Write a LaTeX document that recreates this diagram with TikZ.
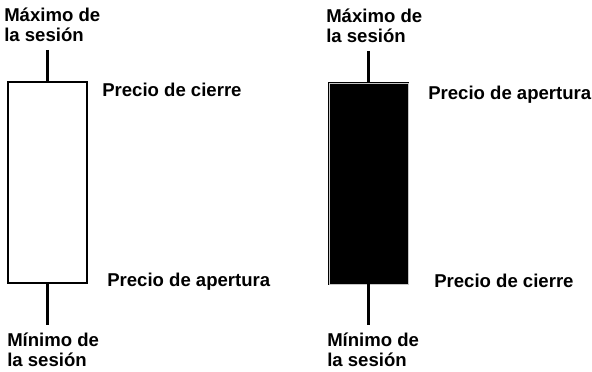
\documentclass[tikz,border=0pt]{standalone}
\usepackage{fontspec}
\setmainfont{Liberation Sans}
\usetikzlibrary{positioning}
\tikzstyle{wick} = [draw, line width=1.5pt]
\tikzstyle{candle} = [draw, rectangle, line width=1.5pt, minimum width=1.975cm, minimum height=5.025cm, inner sep=0pt]
\tikzstyle{darkcandle} = [candle, fill=black, line width=0.6pt, double=gray!45, double distance=0.45pt]
\tikzstyle{tag} = [inner sep=0pt, align=left, anchor=base west, font=\bfseries\fontsize{13.2}{14.9}\selectfont]

\begin{document}
\begin{tikzpicture}[x=0.025cm, y=-0.025cm]
        \useasboundingbox (0,0) rectangle (592,372);
        % bullish candle
        \node[candle, fill=white] (wbody) at (47.5,182.5) {};
        \coordinate (whigh) at (wbody.north |- 0,50);
        \coordinate (wlow) at (wbody.south |- 0,325);
        \path[wick] (whigh) -- (wbody.north);
        \path[wick] (wbody.south) -- (wlow);
        \node[tag] (wmax) at (4,42) {Máximo de\\la sesión};
        \node[tag] (wclose) at (102,97) {Precio de cierre};
        \node[tag] (wopen) at (107,287) {Precio de apertura};
        \node[tag] (wmin) at (7,367) {Mínimo de\\la sesión};
        % bearish candle
        \node[darkcandle] (bbody) at (368.5,183.5) {};
        \coordinate (bhigh) at (bbody.north |- 0,51);
        \coordinate (blow) at (bbody.south |- 0,325);
        \path[wick] (bhigh) -- (bbody.north);
        \path[wick] (bbody.south) -- (blow);
        \node[tag] (bmax) at (326,43) {Máximo de\\la sesión};
        \node[tag] (bopen) at (428,100) {Precio de apertura};
        \node[tag] (bclose) at (434,288) {Precio de cierre};
        \node[tag] (bmin) at (327,367) {Mínimo de\\la sesión};
\end{tikzpicture}
\end{document}
